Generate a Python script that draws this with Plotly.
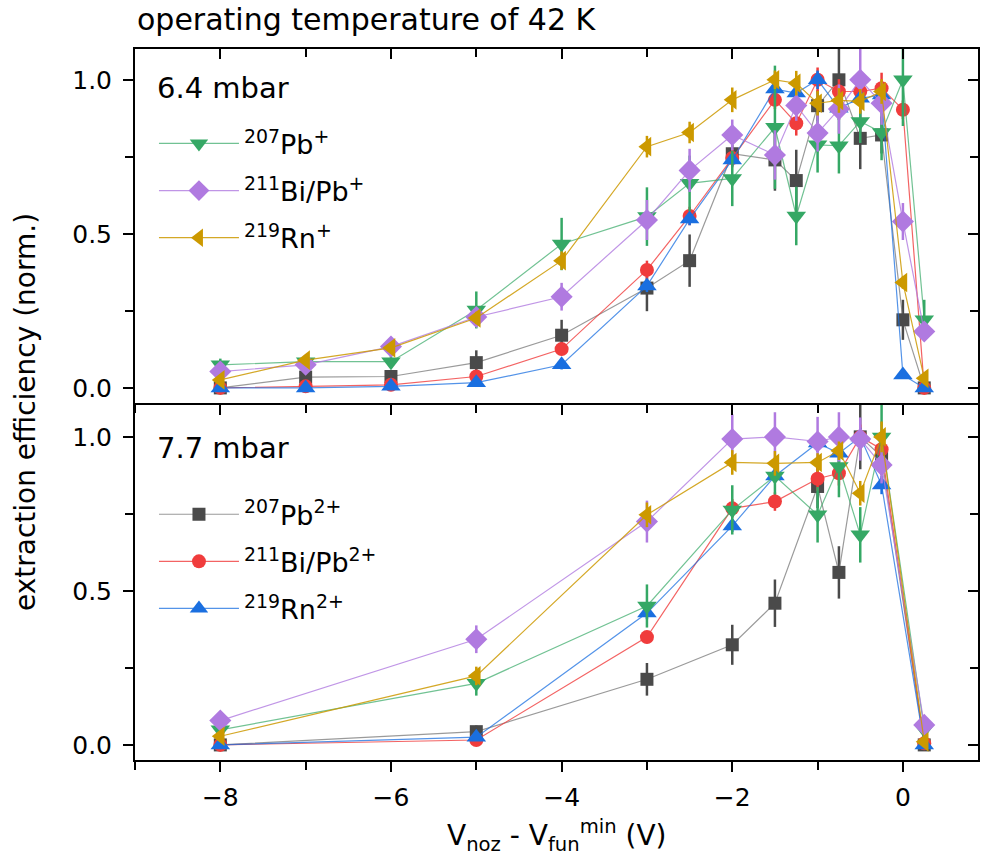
import plotly.graph_objects as go

# ---------------- data ----------------
x_top = [-8, -7, -6, -5, -4, -3, -2.5, -2, -1.5, -1.25, -1, -0.75, -0.5, -0.25, 0, 0.25]
x_bot = [-8, -5, -3, -2, -1.5, -1, -0.75, -0.5, -0.25, 0.25]

# 6.4 mbar (top panel)
top_pb2 = [0, 0.035, 0.037, 0.082, 0.171, 0.324, 0.413, 0.76, 0.74, 0.673, 0.916, 1.0, 0.81, 0.821, 0.221, 0]
top_pb2_err = [0.01, 0.01, 0.01, 0.04, 0.05, 0.075, 0.085, 0.03, 0.1, 0.1, 0.05, 0.13, 0.1, 0.06, 0.065, 0.005]
top_bi2 = [0, 0.005, 0.01, 0.037, 0.126, 0.383, 0.558, 0.746, 0.935, 0.859, 1.0, 0.962, 0.962, 0.973, 0.903, 0]
top_bi2_err = [0.005, 0.005, 0.005, 0.01, 0.02, 0.03, 0.03, 0.03, 0.03, 0.04, 0.04, 0.04, 0.04, 0.05, 0.03, 0.005]
top_rn2 = [0, 0, 0.005, 0.017, 0.075, 0.331, 0.548, 0.74, 0.97, 0.957, 1.0, 0.908, 0.94, 0.951, 0.042, 0]
top_rn2_err = [0.005, 0.005, 0.005, 0.01, 0.015, 0.02, 0.02, 0.02, 0.03, 0.03, 0.03, 0.03, 0.03, 0.03, 0.01, 0.005]
top_pb1 = [0.075, 0.085, 0.085, 0.253, 0.467, 0.556, 0.664, 0.68, 0.846, 0.558, 0.789, 0.786, 0.865, 0.829, 1.0, 0.221]
top_pb1_err = [0.02, 0.02, 0.02, 0.06, 0.085, 0.095, 0.09, 0.09, 0.2, 0.095, 0.09, 0.09, 0.07, 0.09, 0.15, 0.065]
top_bi1 = [0.053, 0.075, 0.134, 0.23, 0.296, 0.545, 0.706, 0.821, 0.756, 0.917, 0.827, 0.905, 1.0, 0.924, 0.54, 0.183]
top_bi1_err = [0.01, 0.01, 0.015, 0.03, 0.045, 0.065, 0.07, 0.05, 0.08, 0.05, 0.06, 0.08, 0.1, 0.07, 0.06, 0.03]
top_rn1 = [0.026, 0.09, 0.13, 0.227, 0.413, 0.783, 0.829, 0.935, 1.0, 0.989, 0.924, 0.933, 0.93, 0.962, 0.342, 0.031]
top_rn1_err = [0.01, 0.01, 0.015, 0.02, 0.03, 0.035, 0.035, 0.04, 0.03, 0.04, 0.04, 0.04, 0.04, 0.04, 0.02, 0.01]

# 7.7 mbar (bottom panel)
bot_pb2 = [0, 0.043, 0.213, 0.325, 0.46, 0.839, 0.56, 1.0, 0.936, 0]
bot_pb2_err = [0.005, 0.02, 0.053, 0.065, 0.077, 0.07, 0.085, 0.105, 0.06, 0.005]
bot_bi2 = [0, 0.016, 0.35, 0.768, 0.79, 0.864, 0.882, 1.0, 0.96, 0.005]
bot_bi2_err = [0.005, 0.01, 0.02, 0.03, 0.03, 0.04, 0.04, 0.04, 0.04, 0.005]
bot_rn2 = [0, 0.025, 0.428, 0.711, 0.873, 0.98, 0.947, 1.0, 0.844, 0]
bot_rn2_err = [0.005, 0.01, 0.02, 0.02, 0.02, 0.03, 0.03, 0.03, 0.03, 0.005]
bot_pb1 = [0.049, 0.2, 0.451, 0.763, 0.873, 0.747, 0.904, 0.682, 1.0, 0.05]
bot_pb1_err = [0.01, 0.04, 0.07, 0.08, 0.06, 0.09, 0.1, 0.09, 0.12, 0.02]
bot_bi1 = [0.079, 0.343, 0.725, 0.993, 1.0, 0.985, 1.0, 0.993, 0.909, 0.065]
bot_bi1_err = [0.01, 0.045, 0.068, 0.08, 0.08, 0.08, 0.08, 0.07, 0.06, 0.02]
bot_rn1 = [0.028, 0.224, 0.747, 0.917, 0.914, 0.917, 0.955, 0.817, 1.0, 0.01]
bot_rn1_err = [0.01, 0.03, 0.04, 0.04, 0.04, 0.03, 0.03, 0.04, 0.05, 0.01]

x_tickvals = [-8, -6, -4, -2, 0]
y_tickvals = [0.0, 0.5, 1.0]

FONT = "DejaVu Sans"

# name, marker color, line color, symbol, size, legend (+ ions top, 2+ ions bottom)
series = [
    ("pb2", "<sup>207</sup>Pb<sup>2+</sup>", "#4a4a4a", "rgba(120,120,120,0.75)", "square", 13, "legend2"),
    ("bi2", "<sup>211</sup>Bi/Pb<sup>2+</sup>", "#f03c3c", "rgba(240,60,60,0.8)", "circle", 14, "legend2"),
    ("rn2", "<sup>219</sup>Rn<sup>2+</sup>", "#1a6fe0", "rgba(26,111,224,0.75)", "triangle-up", 17, "legend2"),
    ("pb1", "<sup>207</sup>Pb<sup>+</sup>", "#35a865", "rgba(53,168,101,0.7)", "triangle-down", 17, "legend"),
    ("bi1", "<sup>211</sup>Bi/Pb<sup>+</sup>", "#b07ae0", "rgba(176,122,224,0.8)", "diamond", 17, "legend"),
    ("rn1", "<sup>219</sup>Rn<sup>+</sup>", "#cc9900", "rgba(204,153,0,0.85)", "triangle-left", 17, "legend"),
]
top_data = {"pb2": (top_pb2, top_pb2_err), "bi2": (top_bi2, top_bi2_err), "rn2": (top_rn2, top_rn2_err),
            "pb1": (top_pb1, top_pb1_err), "bi1": (top_bi1, top_bi1_err), "rn1": (top_rn1, top_rn1_err)}
bot_data = {"pb2": (bot_pb2, bot_pb2_err), "bi2": (bot_bi2, bot_bi2_err), "rn2": (bot_rn2, bot_rn2_err),
            "pb1": (bot_pb1, bot_pb1_err), "bi1": (bot_bi1, bot_bi1_err), "rn1": (bot_rn1, bot_rn1_err)}

fig = go.Figure()
for key, name, mc, lc, sym, sz, leg in series:
    for panel, xs, data, xa, ya in (("top", x_top, top_data, "x2", "y2"), ("bot", x_bot, bot_data, "x", "y")):
        yv, ye = data[key]
        show = (leg == "legend" and panel == "top") or (leg == "legend2" and panel == "bot")
        fig.add_trace(go.Scatter(
            x=xs, y=yv, xaxis=xa, yaxis=ya, mode="lines+markers", name=name,
            legend=leg, legendgroup=key, showlegend=show,
            line=dict(color=lc, width=1.2),
            marker=dict(color=mc, symbol=sym, size=sz, line=dict(width=0)),
            error_y=dict(type="data", array=ye, visible=True, color=mc, thickness=2.5, width=0),
        ))

# empty traces so overlay (mirror-tick) axes render
for xa, ya in (("x3", "y2"), ("x", "y3"), ("x2", "y4")):
    fig.add_trace(go.Scatter(x=[], y=[], xaxis=xa, yaxis=ya, showlegend=False, hoverinfo="skip"))

XR = [-9, 0.88]
YR_T = [-0.049, 1.10]
YR_B = [-0.049, 1.11]
split = 357 / 711

tickfont = dict(family=FONT, size=25, color="black")
common_x = dict(range=XR, tickvals=x_tickvals, ticklen=10, tickwidth=2, tickcolor="black", automargin=False,
                showline=True, linewidth=2, linecolor="black", showgrid=False, zeroline=False,
                minor=dict(dtick=1, tick0=-9, ticks="outside", ticklen=8, tickwidth=2, tickcolor="black"))
common_y = dict(tickvals=y_tickvals, tickformat=".1f", ticklen=10, tickwidth=2, tickcolor="black", automargin=False,
                showline=True, linewidth=2, linecolor="black", showgrid=False, zeroline=False,
                minor=dict(dtick=0.25, tick0=0, ticks="outside", ticklen=8, tickwidth=2, tickcolor="black"))
inside_minor_x = dict(dtick=1, tick0=-9, ticks="inside", ticklen=8, tickwidth=2, tickcolor="black")
inside_minor_y = dict(dtick=0.25, tick0=0, ticks="inside", ticklen=8, tickwidth=2, tickcolor="black")

fig.update_layout(
    width=983, height=857,
    margin=dict(l=135, r=5, t=49, b=97),
    paper_bgcolor="white", plot_bgcolor="white",
    font=dict(family=FONT, color="black"),
    xaxis=dict(**common_x, anchor="y", domain=[0, 1], ticks="outside", mirror=False,
               tickfont=tickfont, ticklabelstandoff=4),
    xaxis2=dict(**common_x, anchor="y2", domain=[0, 1], ticks="outside", mirror=True,
                showticklabels=False, matches="x"),
    xaxis3=dict(**{**common_x, "minor": inside_minor_x},
                anchor="y2", overlaying="x2", side="top", ticks="inside", showticklabels=False),
    yaxis=dict(**common_y, range=YR_B, domain=[0, split], anchor="x", ticks="outside", mirror=True,
               tickfont=tickfont, ticklabelstandoff=6),
    yaxis2=dict(**common_y, range=YR_T, domain=[split, 1], anchor="x2", ticks="outside", mirror=True,
                tickfont=tickfont, ticklabelstandoff=6),
    yaxis3=dict(**{**common_y, "minor": inside_minor_y},
                range=YR_B, anchor="x", overlaying="y", side="right", ticks="inside", showticklabels=False),
    yaxis4=dict(**{**common_y, "minor": inside_minor_y},
                range=YR_T, anchor="x2", overlaying="y2", side="right", ticks="inside", showticklabels=False),
    legend=dict(x=0.0225, y=0.901, xanchor="left", yanchor="top", bgcolor="rgba(0,0,0,0)",
                font=dict(family=FONT, size=27), tracegroupgap=9, itemwidth=80),
    legend2=dict(x=0.0225, y=0.3795, xanchor="left", yanchor="top", bgcolor="rgba(0,0,0,0)",
                 font=dict(family=FONT, size=27), tracegroupgap=9, itemwidth=80),
    annotations=[
        dict(text="operating temperature of 42 K", xref="paper", yref="paper", x=0.0, y=1 + 49 / 711,
             xanchor="left", yanchor="top", showarrow=False, font=dict(family=FONT, size=30)),
        dict(text="6.4 mbar", xref="paper", yref="paper", x=0.024, y=0.945,
             xanchor="left", yanchor="middle", showarrow=False, font=dict(family=FONT, size=29)),
        dict(text="7.7 mbar", xref="paper", yref="paper", x=0.024, y=0.439,
             xanchor="left", yanchor="middle", showarrow=False, font=dict(family=FONT, size=29)),
        dict(text="extraction efficiency (norm.)", xref="paper", yref="paper", x=-0.13, y=0.49,
             xanchor="center", yanchor="middle", textangle=-90, showarrow=False,
             font=dict(family=FONT, size=28)),
        dict(text="V<sub>noz</sub> - V<sub>fun</sub><sup>min</sup> (V)", xref="paper", yref="paper",
             x=0.5, y=-0.106, xanchor="center", yanchor="middle", showarrow=False,
             font=dict(family=FONT, size=28)),
    ],
)

fig.write_html("out.html", config={"displayModeBar": False},
               post_script="document.body.style.margin='0px';")
